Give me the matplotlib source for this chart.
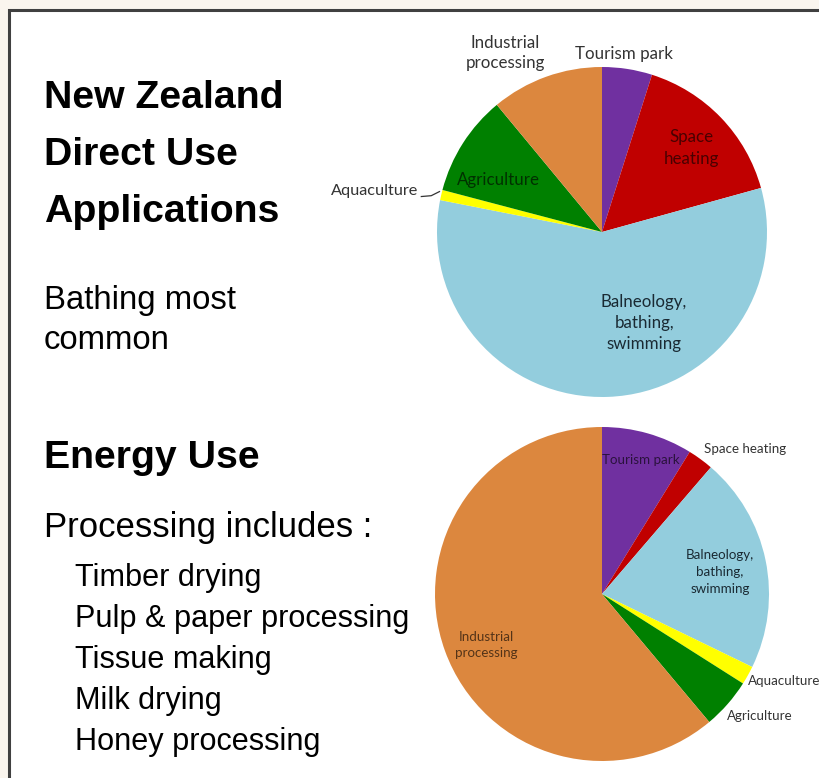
import matplotlib
matplotlib.use("Agg")
import matplotlib.pyplot as plt
from matplotlib.patches import Rectangle

W, H = 820, 778
DPI = 100

categories = ["Tourism park", "Space heating", "Balneology, bathing, swimming",
              "Aquaculture", "Agriculture", "Industrial processing"]
colors = ["#7030A0", "#C00000", "#93CDDD", "#FFFF00", "#008000", "#DC873E"]
direct_use_share = [4.9, 15.8, 57.4, 1.0, 9.9, 11.0]
energy_use_share = [8.8, 2.5, 20.9, 1.8, 4.9, 61.1]

title_lines = ["New Zealand", "Direct Use", "Applications"]
note_lines = ["Bathing most", "common"]
energy_title = "Energy Use"
processing_head = "Processing includes :"
processing_items = ["Timber drying", "Pulp & paper processing", "Tissue making",
                    "Milk drying", "Honey processing"]

fig = plt.figure(figsize=(W / DPI, H / DPI), dpi=DPI, facecolor="#FAF5EE")

def px(x, y):
    return x / W, 1 - y / H

# white slide with dark frame (right/bottom edges beyond the image)
fig.patches.append(Rectangle(px(9, 900), 900 / W, (900 - 10) / H, transform=fig.transFigure,
                             facecolor="white", edgecolor="#404040", linewidth=2.2, zorder=-10))

sans = ["Liberation Sans", "DejaVu Sans"]
FSB = 28.3
for i, t in enumerate(title_lines):
    fig.text(*px(44, 108 + 57 * i), t, fontsize=FSB, fontweight="bold", family=sans,
             va="baseline", ha="left", color="black")
for i, t in enumerate(note_lines):
    fig.text(*px(44, 309 + 40 * i), t, fontsize=23.7, family=sans, va="baseline", ha="left")
fig.text(*px(44, 468), energy_title, fontsize=FSB, fontweight="bold", family=sans, va="baseline")
fig.text(*px(44, 537), processing_head, fontsize=25, family=sans, va="baseline")
for i, t in enumerate(processing_items):
    fig.text(*px(75, 586 + 41 * i), t, fontsize=22.1, family=sans, va="baseline")

lab_font = ["Lato", "DejaVu Sans"]

def make_pie(cx, cy, r, values):
    ax = fig.add_axes([(cx - r) / W, 1 - (cy + r) / H, 2 * r / W, 2 * r / H], zorder=2)
    ax.pie(values, colors=colors, startangle=90, counterclock=False, radius=1,
           wedgeprops=dict(linewidth=0))
    ax.set_xlim(-1, 1)
    ax.set_ylim(-1, 1)
    ax.set_aspect("equal")
    ax.axis("off")
    return ax

ax1 = make_pie(602, 232, 165, direct_use_share)
f1 = 12.2
out_c = "#333333"
in_kw = dict(color="black", alpha=0.62, ha="center", va="center", family=lab_font)
ax1.text(-0.588, 1.085, "Industrial\nprocessing", fontsize=f1, color=out_c, ha="center", va="center",
         family=lab_font, linespacing=1.35)
ax1.text(0.133, 1.079, "Tourism park", fontsize=f1, color=out_c, ha="center", va="center", family=lab_font)
ax1.text(0.545, 0.509, "Space\nheating", fontsize=f1, linespacing=1.4, **in_kw)
ax1.text(-0.63, 0.315, "Agriculture", fontsize=f1, **in_kw)
ax1.text(-1.115, 0.248, "Aquaculture", fontsize=f1 - 0.5, color=out_c, ha="right", va="center",
         family=lab_font)
ax1.plot([-1.095, -1.035, -0.985], [0.215, 0.22, 0.245], color="#333333", lw=0.9, clip_on=False)
ax1.text(0.255, -0.552, "Balneology,\nbathing,\nswimming", fontsize=f1, color="#1a2a33",
         ha="center", va="center", family=lab_font, linespacing=1.38)

ax2 = make_pie(602, 594, 167, energy_use_share)
f2 = 9.6
ax2.text(0.234, 0.802, "Tourism park", fontsize=f2, **in_kw)
ax2.text(0.856, 0.868, "Space heating", fontsize=f2, color=out_c, ha="center", va="center", family=lab_font)
ax2.text(0.707, 0.132, "Balneology,\nbathing,\nswimming", fontsize=f2, color="#1a2a33",
         ha="center", va="center", family=lab_font, linespacing=1.5)
ax2.text(-0.695, -0.305, "Industrial\nprocessing", fontsize=f2, linespacing=1.45, **in_kw)
ax2.text(1.09, -0.521, "Aquaculture", fontsize=f2, color=out_c, ha="center", va="center", family=lab_font)
ax2.text(0.946, -0.731, "Agriculture", fontsize=f2, color=out_c, ha="center", va="center", family=lab_font)

fig.savefig("out.png", dpi=DPI, facecolor=fig.get_facecolor())
